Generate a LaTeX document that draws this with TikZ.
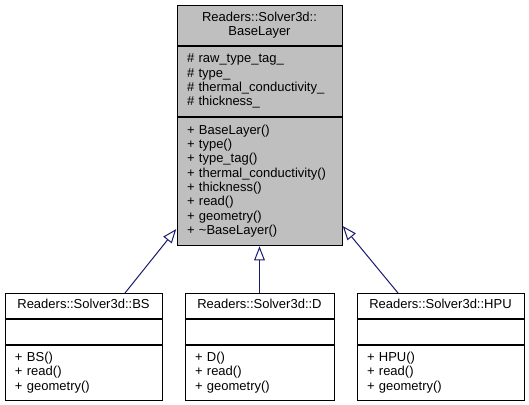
\documentclass[tikz,border=0pt]{standalone}
\usepackage{fontspec}
\setmainfont{Liberation Sans}
\usetikzlibrary{positioning,fit,arrows.meta}
\definecolor{edgeblue}{HTML}{191970}
\newcommand{\umlfont}{\fontsize{9.75}{10.7}\selectfont}
\tikzset{
    part/.style={draw, rectangle, line width=0.75pt, inner xsep=7.5pt, inner ysep=0pt,
        font=\umlfont, anchor=north, execute at begin node=\strut, execute at end node=\strut},
    parttitle/.style={part, align=center},
    partbody/.style={part, align=left},
    derives/.style={draw=edgeblue, line width=0.75pt, -{Triangle[open, length=10.5pt, width=8pt]}}
}
\begin{document}
\begin{tikzpicture}[x=0.75pt,y=-0.75pt]
            \useasboundingbox (0,0) rectangle (529,404);
            % base class
            \node[parttitle, fill=gray!50, text width=108.75pt, minimum height=30pt] (basetitle) at (259.5,5) {Readers::Solver3d::\\BaseLayer};
            \node[partbody, fill=gray!50, text width=108.75pt, minimum height=52.5pt, below=0pt of basetitle] (baseattr)
                {\# raw\_type\_tag\_\\\# type\_\\\# thermal\_conductivity\_\\\# thickness\_};
            \node[partbody, fill=gray!50, text width=108.75pt, minimum height=96pt, below=0pt of baseattr] (baseops)
                {+ BaseLayer()\\+ type()\\+ type\_tag()\\+ thermal\_conductivity()\\+ thickness()\\+ read()\\+ geometry()\\+ \textasciitilde BaseLayer()};
            \node[fit=(basetitle)(baseops), inner sep=0pt] (base) {};
            % derived classes
            \node[parttitle, text width=102.75pt, minimum height=18.75pt] (bstitle) at (83.5,293) {Readers::Solver3d::BS};
            \node[partbody, text width=102.75pt, minimum height=18.75pt, below=0pt of bstitle] (bsattr) {};
            \node[partbody, text width=102.75pt, minimum height=41.25pt, below=0pt of bsattr] (bsops) {+ BS()\\+ read()\\+ geometry()};
            \node[parttitle, text width=96.75pt, minimum height=18.75pt] (dtitle) at (259.5,293) {Readers::Solver3d::D};
            \node[partbody, text width=96.75pt, minimum height=18.75pt, below=0pt of dtitle] (dattr) {};
            \node[partbody, text width=96.75pt, minimum height=41.25pt, below=0pt of dattr] (dops) {+ D()\\+ read()\\+ geometry()};
            \node[parttitle, text width=110.25pt, minimum height=18.75pt] (hputitle) at (440.5,293) {Readers::Solver3d::HPU};
            \node[partbody, text width=110.25pt, minimum height=18.75pt, below=0pt of hputitle] (hpuattr) {};
            \node[partbody, text width=110.25pt, minimum height=41.25pt, below=0pt of hpuattr] (hpuops) {+ HPU()\\+ read()\\+ geometry()};
            % inheritance
            \coordinate (bsfoot) at (125,293);
            \coordinate (hpufoot) at (398,293);
            \draw[derives] (bsfoot) -- (base);
            \draw[derives] (dtitle) -- (base);
            \draw[derives] (hpufoot) -- (base);
        \end{tikzpicture}
\end{document}
